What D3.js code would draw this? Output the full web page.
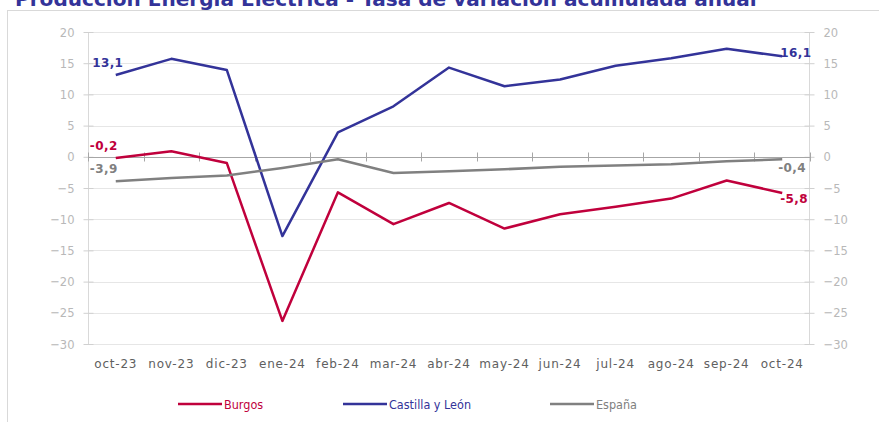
<!DOCTYPE html>
<html>
<head>
<meta charset="utf-8">
<script src="https://cdn.jsdelivr.net/npm/d3@7"></script>
<style>
  html, body { margin: 0; padding: 0; background: #ffffff; }
  svg { display: block; }
</style>
</head>
<body>
<svg id="chart" width="879" height="422"></svg>
<script>
// Monthly periods
const months = ["oct-23", "nov-23", "dic-23", "ene-24", "feb-24", "mar-24", "abr-24",
                "may-24", "jun-24", "jul-24", "ago-24", "sep-24", "oct-24"];

// Cumulative annual growth rate (%) of electricity production
const burgos   = [-0.2, 0.9, -1.0, -26.3, -5.7, -10.8, -7.4, -11.5, -9.2, -8.0, -6.7, -3.8, -5.8];
const castilla = [13.1, 15.7, 13.9, -12.7, 3.9, 8.1, 14.3, 11.3, 12.4, 14.6, 15.8, 17.3, 16.1];
const espana   = [-3.9, -3.4, -3.0, -1.8, -0.4, -2.6, -2.3, -2.0, -1.6, -1.4, -1.2, -0.7, -0.4];

const yTicks = [20, 15, 10, 5, 0, -5, -10, -15, -20, -25, -30];

const series = [
  { name: "Burgos",          values: burgos,   color: "#c0003c" },
  { name: "Castilla y León", values: castilla, color: "#333399" },
  { name: "España",          values: espana,   color: "#808080" }
];

const svg = d3.select("#chart");
const plotLeft = 88, plotRight = 810, plotTop = 32, plotBottom = 344;

const x = d3.scaleBand().domain(months).range([plotLeft, plotRight]);
const y = d3.scaleLinear().domain([-30, 20]).range([plotBottom, plotTop]);
const cx = m => x(m) + x.bandwidth() / 2;

// Outer frame
svg.append("rect")
  .attr("x", 7.5).attr("y", 10.5).attr("width", 1000).attr("height", 1000)
  .attr("fill", "none").attr("stroke", "#d9d9d9").attr("stroke-width", 1);

// Title
const title = svg.append("text")
  .attr("x", 15).attr("y", 6)
  .attr("font-family", "DejaVu Sans, Verdana, sans-serif")
  .attr("font-weight", "bold")
  .attr("font-size", 18)
  .attr("fill", "#333399")
  .text("Producción Energía Eléctrica - Tasa de variación acumulada anual");
const tw = title.node().getComputedTextLength();
title.attr("font-size", 18 * 742 / tw);

// Horizontal gridlines
svg.append("g").selectAll("line")
  .data(yTicks.filter(d => d !== 0))
  .join("line")
  .attr("x1", plotLeft).attr("x2", plotRight)
  .attr("y1", d => Math.round(y(d)) + 0.5).attr("y2", d => Math.round(y(d)) + 0.5)
  .attr("stroke", "#e6e6e6").attr("stroke-width", 1);

const tickFont = "DejaVu Sans Condensed, DejaVu Sans, sans-serif";

// Left axis
const yAxisL = svg.append("g")
  .attr("transform", `translate(${plotLeft + 0.5},0)`)
  .call(d3.axisLeft(y).tickValues(yTicks).tickSize(5).tickPadding(9).tickFormat(d3.format("d")));
yAxisL.selectAll("line").attr("x2", -5).attr("x1", 5).attr("stroke", "#d0d0d0");
yAxisL.select(".domain").attr("stroke", "#d9d9d9").attr("d", `M0,${plotTop}V${plotBottom}`);

// Right axis
const yAxisR = svg.append("g")
  .attr("transform", `translate(${plotRight - 0.5},0)`)
  .call(d3.axisRight(y).tickValues(yTicks).tickSize(5).tickPadding(9).tickFormat(d3.format("d")));
yAxisR.selectAll("line").attr("x1", -5).attr("x2", 5).attr("stroke", "#d0d0d0");
yAxisR.select(".domain").attr("stroke", "#d9d9d9").attr("d", `M0,${plotTop}V${plotBottom}`);

[yAxisL, yAxisR].forEach(g => {
  g.selectAll("text")
    .attr("font-family", tickFont)
    .attr("font-size", 12.8)
    .attr("fill", "#b8b8b8");
});

// Zero line with category boundary ticks
const zeroY = Math.round(y(0)) + 0.5;
const xAxis = svg.append("g")
  .attr("transform", `translate(0,${zeroY})`)
  .call(d3.axisBottom(x).tickSize(0).tickFormat(""));
xAxis.select(".domain").attr("stroke", "#a6a6a6").attr("d", `M${plotLeft},0H${plotRight}`);
xAxis.selectAll(".tick").remove();
const bounds = d3.range(months.length + 1).map(i => plotLeft + i * x.step());
xAxis.selectAll("line.bound")
  .data(bounds)
  .join("line")
  .attr("class", "bound")
  .attr("x1", d => Math.round(d) + 0.5).attr("x2", d => Math.round(d) + 0.5)
  .attr("y1", -5).attr("y2", 4)
  .attr("stroke", "#a6a6a6");

// Month labels
svg.append("g").selectAll("text")
  .data(months)
  .join("text")
  .attr("x", d => cx(d))
  .attr("y", 368)
  .attr("text-anchor", "middle")
  .attr("font-family", "DejaVu Sans, sans-serif")
  .attr("font-size", 12)
  .attr("letter-spacing", 0.8)
  .attr("fill", "#606060")
  .text(d => d);

// Series lines
const line = d3.line().x((d, i) => cx(months[i])).y(d => y(d));
svg.append("g").selectAll("path")
  .data(series)
  .join("path")
  .attr("d", s => line(s.values))
  .attr("fill", "none")
  .attr("stroke", s => s.color)
  .attr("stroke-width", 2.5)
  .attr("stroke-linejoin", "round");

// End-point value labels
const fmt = v => d3.format(".1f")(v).replace(".", ",").replace("\u2212", "-");
const labelFont = "DejaVu Sans, sans-serif";
const first = 0, last = months.length - 1;
const labels = [
  { s: series[1], i: first, dx: -8, dy: -8, anchor: "middle" },
  { s: series[0], i: first, dx: -12, dy: -8, anchor: "middle" },
  { s: series[2], i: first, dx: -12, dy: -8, anchor: "middle" },
  { s: series[1], i: last,  dx: -2,  dy: 1,  anchor: "start" },
  { s: series[0], i: last,  dx: -2,  dy: 10, anchor: "start" },
  { s: series[2], i: last,  dx: -4,  dy: 13, anchor: "start" }
];
svg.append("g").selectAll("text")
  .data(labels)
  .join("text")
  .attr("x", d => cx(months[d.i]) + d.dx)
  .attr("y", d => y(d.s.values[d.i]) + d.dy)
  .attr("text-anchor", d => d.anchor)
  .attr("font-family", labelFont)
  .attr("font-weight", "bold")
  .attr("font-size", 12)
  .attr("letter-spacing", 0.4)
  .attr("fill", d => d.s.color)
  .text(d => fmt(d.s.values[d.i]));

// Legend
const legendX = [178, 343, 550];
const legend = svg.append("g").selectAll("g")
  .data(series)
  .join("g")
  .attr("transform", (d, i) => `translate(${legendX[i]},404)`);
legend.append("line")
  .attr("x1", 0).attr("x2", 44).attr("y1", 0).attr("y2", 0)
  .attr("stroke", d => d.color).attr("stroke-width", 2.5);
legend.append("text")
  .attr("x", 46).attr("y", 4.5)
  .attr("font-family", tickFont)
  .attr("font-size", 12.5)
  .attr("fill", d => d.color)
  .text(d => d.name);
</script>
</body>
</html>
